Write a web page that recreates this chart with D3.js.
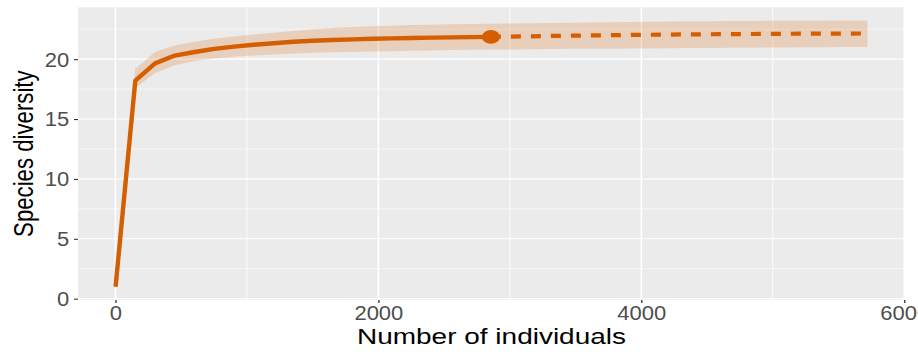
<!DOCTYPE html>
<html>
<head>
<meta charset="utf-8">
<script src="https://cdn.jsdelivr.net/npm/d3@7"></script>
<style>
  html, body { margin: 0; padding: 0; background: #fff; overflow: hidden; }
  text { font-family: "Liberation Sans", Arial, Helvetica, sans-serif; }
</style>
</head>
<body>
<svg id="chart" width="918" height="352"></svg>
<script>
// Rarefaction part of the curve (sample size -> expected species, with 95% band)
const rareX  = [1, 151, 301, 451, 602, 752, 902, 1052, 1203, 1353, 1503, 1653, 1804, 1954, 2104, 2254, 2405, 2555, 2705, 2856];
const rareY  = [1, 18.2, 19.65, 20.3, 20.6, 20.86, 21.05, 21.2, 21.33, 21.45, 21.54, 21.6, 21.65, 21.7, 21.74, 21.77, 21.8, 21.82, 21.84, 21.86];
const rareLo = [1, 17.6, 18.85, 19.5, 19.85, 20.05, 20.2, 20.3, 20.4, 20.47, 20.53, 20.57, 20.6, 20.63, 20.66, 20.7, 20.73, 20.76, 20.78, 20.8];
const rareHi = [1, 19.2, 20.6, 21.15, 21.45, 21.7, 21.9, 22.05, 22.2, 22.35, 22.5, 22.6, 22.68, 22.75, 22.8, 22.85, 22.88, 22.91, 22.94, 22.96];

// Extrapolated part, starting at the observed sample
const extX  = [2856, 3007, 3157, 3308, 3459, 3609, 3760, 3911, 4061, 4212, 4363, 4513, 4664, 4815, 4965, 5116, 5267, 5418, 5568, 5720];
const extY  = [21.86, 21.89, 21.91, 21.94, 21.96, 21.98, 22.0, 22.02, 22.04, 22.05, 22.07, 22.08, 22.09, 22.1, 22.11, 22.12, 22.13, 22.135, 22.14, 22.145];
const extLo = [20.8, 20.81, 20.83, 20.84, 20.86, 20.87, 20.88, 20.89, 20.9, 20.92, 20.93, 20.94, 20.95, 20.96, 20.97, 20.98, 20.99, 21.0, 21.01, 21.02];
const extHi = [22.96, 22.98, 23.0, 23.03, 23.05, 23.07, 23.09, 23.11, 23.13, 23.15, 23.16, 23.17, 23.18, 23.19, 23.2, 23.21, 23.21, 23.22, 23.22, 23.22];

// Observed reference sample
const obsX = [2856];
const obsY = [21.86];

// Axis ticks and gridlines
const xTicks = [0, 2000, 4000, 6000];
const xMinor = [1000, 3000, 5000];
const yTicks = [0, 5, 10, 15, 20];
const yMinor = [2.5, 7.5, 12.5, 17.5, 22.5];

const xTitle = "Number of individuals";
const yTitle = "Species diversity";
const lineColor = "#D55E00";

// ---------------------------------------------------------------
const svg = d3.select("#chart");
const panel = { left: 78, right: 905, top: 7.3, bottom: 300 };
const SX_TICK = 1.14;   // horizontal widening of tick labels
const SX_TITLE = 1.26;  // horizontal widening of axis titles

const rare = rareX.map((x, i) => ({ x, y: rareY[i], lo: rareLo[i], hi: rareHi[i] }));
const ext = extX.map((x, i) => ({ x, y: extY[i], lo: extLo[i], hi: extHi[i] }));
const band = rare.concat(ext.slice(1));

// Domains padded by 5% on each side
function padded(lo, hi) { const p = (hi - lo) * 0.05; return [lo - p, hi + p]; }
const xExt = d3.extent(band, d => d.x);
const yExt = [d3.min(band, d => d.lo), d3.max(band, d => d.hi)];

const x = d3.scaleLinear().domain(padded(xExt[0], xExt[1])).range([panel.left, panel.right]);
const y = d3.scaleLinear().domain(padded(yExt[0], yExt[1])).range([panel.bottom, panel.top]);

// Panel background
svg.append("rect")
  .attr("x", panel.left).attr("y", panel.top)
  .attr("width", panel.right - panel.left)
  .attr("height", panel.bottom - panel.top)
  .attr("fill", "#EBEBEB");

// Gridlines
const grid = svg.append("g");
grid.selectAll(".ymin").data(yMinor).join("line")
  .attr("x1", panel.left).attr("x2", panel.right)
  .attr("y1", d => y(d)).attr("y2", d => y(d))
  .attr("stroke", "#fff").attr("stroke-width", 0.6);
grid.selectAll(".xmin").data(xMinor).join("line")
  .attr("y1", panel.top).attr("y2", panel.bottom)
  .attr("x1", d => x(d)).attr("x2", d => x(d))
  .attr("stroke", "#fff").attr("stroke-width", 0.8);
grid.selectAll(".ymaj").data(yTicks).join("line")
  .attr("x1", panel.left).attr("x2", panel.right)
  .attr("y1", d => y(d)).attr("y2", d => y(d))
  .attr("stroke", "#fff").attr("stroke-width", 1.1);
grid.selectAll(".xmaj").data(xTicks.filter(d => x(d) <= panel.right)).join("line")
  .attr("y1", panel.top).attr("y2", panel.bottom)
  .attr("x1", d => x(d)).attr("x2", d => x(d))
  .attr("stroke", "#fff").attr("stroke-width", 1.6);

// Confidence band
svg.append("path")
  .datum(band)
  .attr("d", d3.area().x(d => x(d.x)).y0(d => y(d.lo)).y1(d => y(d.hi)))
  .attr("fill", lineColor).attr("fill-opacity", 0.2);

// Rarefied (solid) and extrapolated (dashed) curves
svg.append("path")
  .datum(rare)
  .attr("d", d3.line().x(d => x(d.x)).y(d => y(d.y)))
  .attr("fill", "none").attr("stroke", lineColor)
  .attr("stroke-width", 4.4).attr("stroke-linejoin", "round");

svg.append("path")
  .datum(ext)
  .attr("d", d3.line().x(d => x(d.x)).y(d => y(d.y)))
  .attr("fill", "none").attr("stroke", lineColor)
  .attr("stroke-width", 4.2).attr("stroke-dasharray", "10,10");

// Observed sample point
svg.selectAll(".obs").data(obsX).join("ellipse")
  .attr("cx", d => x(d)).attr("cy", (d, i) => y(obsY[i]))
  .attr("rx", 9).attr("ry", 6.8)
  .attr("fill", lineColor);

// Axes
const xAxis = svg.append("g")
  .attr("transform", `translate(0,${panel.bottom})`)
  .call(d3.axisBottom(x).tickValues(xTicks).tickSize(3).tickPadding(3).tickFormat(d3.format("d")));
xAxis.select(".domain").remove();
xAxis.selectAll(".tick line").attr("stroke", "#333").attr("stroke-width", 1.3);
xAxis.selectAll(".tick text")
  .attr("fill", "#4D4D4D").attr("font-size", 19.3)
  .attr("transform", `scale(${SX_TICK},1)`);

const yAxis = svg.append("g")
  .attr("transform", `translate(${panel.left},0)`)
  .call(d3.axisLeft(y).tickValues(yTicks).tickSize(4).tickPadding(4.7));
yAxis.select(".domain").remove();
yAxis.selectAll(".tick line").attr("stroke", "#333").attr("stroke-width", 1.1);
yAxis.selectAll(".tick text")
  .attr("fill", "#4D4D4D").attr("font-size", 19.3)
  .attr("x", -8.7 / SX_TICK).attr("dy", "0.36em")
  .attr("transform", `scale(${SX_TICK},1)`);

// Axis titles
svg.append("text")
  .attr("transform", `translate(${(panel.left + panel.right) / 2},344.3) scale(${SX_TITLE},1)`)
  .attr("text-anchor", "middle").attr("font-size", 22.2).attr("fill", "#000")
  .text(xTitle);

svg.append("text")
  .attr("transform", `translate(33.3,${(panel.top + panel.bottom) / 2}) scale(${SX_TITLE},1) rotate(-90)`)
  .attr("text-anchor", "middle").attr("font-size", 22.2).attr("fill", "#000")
  .text(yTitle);
</script>
</body>
</html>
